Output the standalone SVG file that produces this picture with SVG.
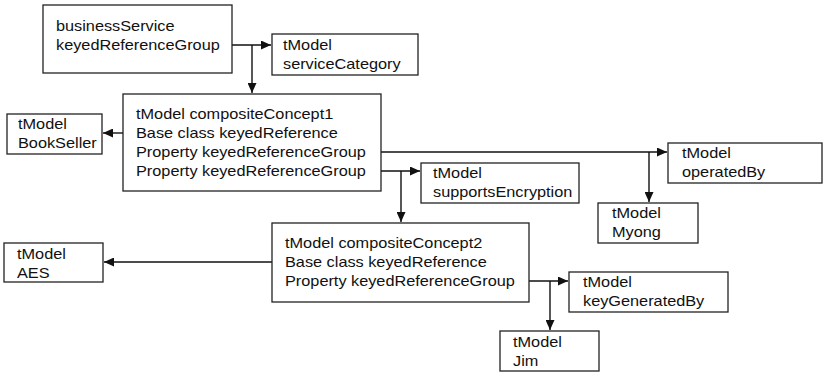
<svg xmlns="http://www.w3.org/2000/svg" width="824" height="373" viewBox="0 0 824 373">
<style>
  rect.n { fill: #fff; stroke: #222; stroke-width: 1.3; }
  text { font-family: "Liberation Sans", Arial, Helvetica, sans-serif; font-size: 14.5px; fill: #111; }
  .c { fill: none; stroke: #111; stroke-width: 1.4; }
</style>
<defs>
  <marker id="arr" markerUnits="userSpaceOnUse" markerWidth="11" markerHeight="9" refX="10" refY="4.5" orient="auto">
    <path d="M0,0 L10,4.5 L0,9 z" fill="#111"/>
  </marker>
</defs>
<rect width="824" height="373" fill="#fff"/>

<g id="connectors">
  <path class="c" d="M221,45 H271" marker-end="url(#arr)"/>
  <path class="c" d="M252,45 V93" marker-end="url(#arr)"/>
  <path class="c" d="M135,133 H103" marker-end="url(#arr)"/>
  <path class="c" d="M368,152 H667" marker-end="url(#arr)"/>
  <path class="c" d="M649,152 V202" marker-end="url(#arr)"/>
  <path class="c" d="M368,171 H420" marker-end="url(#arr)"/>
  <path class="c" d="M401,171 V222" marker-end="url(#arr)"/>
  <path class="c" d="M284,262 H104" marker-end="url(#arr)"/>
  <path class="c" d="M517,281 H568" marker-end="url(#arr)"/>
  <path class="c" d="M550,281 V330" marker-end="url(#arr)"/>
</g>

<g id="businessService">
  <rect class="n" x="43" y="5" width="189" height="68"/>
  <text transform="translate(56,31) scale(1.124,1)"><tspan x="0">businessService</tspan><tspan x="0" dy="19">keyedReferenceGroup</tspan></text>
</g>
<g id="serviceCategory">
  <rect class="n" x="272" y="34" width="146" height="41"/>
  <text transform="translate(283,50) scale(1.124,1)"><tspan x="0">tModel</tspan><tspan x="0" dy="19">serviceCategory</tspan></text>
</g>
<g id="compositeConcept1">
  <rect class="n" x="123" y="94" width="258" height="97"/>
  <text transform="translate(136,119) scale(1.124,1)"><tspan x="0">tModel compositeConcept1</tspan><tspan x="0" dy="19">Base class keyedReference</tspan><tspan x="0" dy="19">Property keyedReferenceGroup</tspan><tspan x="0" dy="19">Property keyedReferenceGroup</tspan></text>
</g>
<g id="BookSeller">
  <rect class="n" x="7" y="114" width="95" height="40"/>
  <text transform="translate(18,129) scale(1.124,1)"><tspan x="0">tModel</tspan><tspan x="0" dy="19">BookSeller</tspan></text>
</g>
<g id="operatedBy">
  <rect class="n" x="668" y="143" width="154" height="40"/>
  <text transform="translate(682,158) scale(1.124,1)"><tspan x="0">tModel</tspan><tspan x="0" dy="19">operatedBy</tspan></text>
</g>
<g id="supportsEncryption">
  <rect class="n" x="421" y="163" width="158" height="40"/>
  <text transform="translate(433,178) scale(1.124,1)"><tspan x="0">tModel</tspan><tspan x="0" dy="19">supportsEncryption</tspan></text>
</g>
<g id="Myong">
  <rect class="n" x="598" y="203" width="100" height="40"/>
  <text transform="translate(612,218) scale(1.124,1)"><tspan x="0">tModel</tspan><tspan x="0" dy="19">Myong</tspan></text>
</g>
<g id="compositeConcept2">
  <rect class="n" x="272" y="223" width="257" height="79"/>
  <text transform="translate(285,248) scale(1.124,1)"><tspan x="0">tModel compositeConcept2</tspan><tspan x="0" dy="19">Base class keyedReference</tspan><tspan x="0" dy="19">Property keyedReferenceGroup</tspan></text>
</g>
<g id="AES">
  <rect class="n" x="4" y="243" width="99" height="39"/>
  <text transform="translate(17,259) scale(1.124,1)"><tspan x="0">tModel</tspan><tspan x="0" dy="19">AES</tspan></text>
</g>
<g id="keyGeneratedBy">
  <rect class="n" x="569" y="272" width="159" height="40"/>
  <text transform="translate(583,287) scale(1.124,1)"><tspan x="0">tModel</tspan><tspan x="0" dy="19">keyGeneratedBy</tspan></text>
</g>
<g id="Jim">
  <rect class="n" x="500" y="331" width="99" height="40"/>
  <text transform="translate(513,347) scale(1.124,1)"><tspan x="0">tModel</tspan><tspan x="0" dy="19">Jim</tspan></text>
</g>
</svg>
